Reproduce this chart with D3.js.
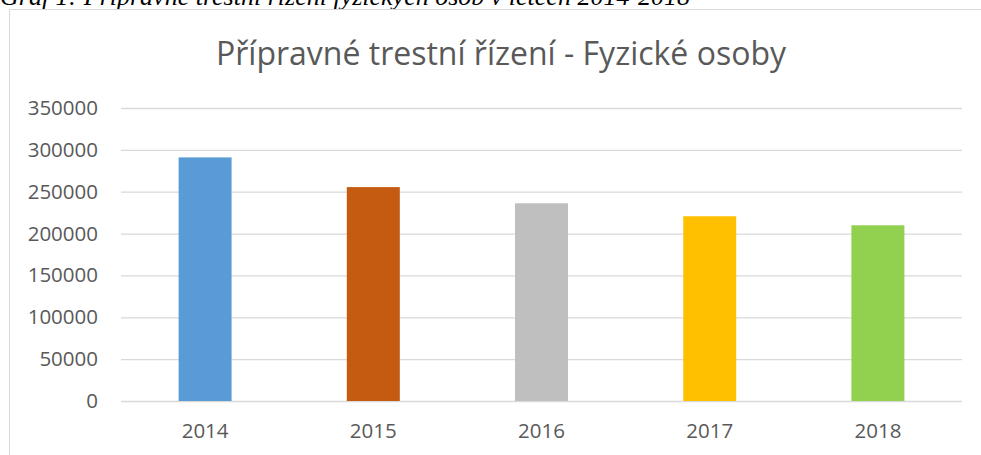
<!DOCTYPE html>
<html>
<head>
<meta charset="utf-8">
<script src="https://cdn.jsdelivr.net/npm/d3@7"></script>
<style>
  html, body { margin: 0; padding: 0; background: #fff; }
  svg { display: block; }
</style>
</head>
<body>
<div id="chart"></div>
<script>
const years = ["2014", "2015", "2016", "2017", "2018"];
const values = [291000, 255500, 236200, 220700, 209900];
const barColors = ["#5B9BD5", "#C55A11", "#BFBFBF", "#FFC000", "#92D050"];
const yTicks = [0, 50000, 100000, 150000, 200000, 250000, 300000, 350000];
const chartTitle = "Přípravné trestní řízení - Fyzické osoby";
const caption = "Graf 1: Přípravné trestní řízení fyzických osob v letech 2014-2018";

const width = 981;
const height = 455;
const plot = { left: 121, right: 962, top: 108, bottom: 401 };
const textGrey = "#595959";
const font = "'Open Sans', sans-serif";

const svg = d3.select("#chart")
  .append("svg")
  .attr("width", width)
  .attr("height", height);

/* document caption above the chart, mostly cut off by the top edge */
svg.append("text")
  .attr("x", 0)
  .attr("y", 5)
  .attr("font-family", "'Liberation Serif', 'Times New Roman', serif")
  .attr("font-style", "italic")
  .attr("font-size", 26)
  .attr("fill", "#000")
  .text(caption);

/* chart frame: only the top and left edges fall inside the picture */
svg.append("rect")
  .attr("x", 9).attr("y", 9)
  .attr("width", width).attr("height", height)
  .attr("fill", "#fff");
svg.append("path")
  .attr("d", `M9.5,${height} V9.5 H${width}`)
  .attr("fill", "none")
  .attr("stroke", "#d9d9d9")
  .attr("stroke-width", 1);

const x = d3.scaleBand()
  .domain(years)
  .range([plot.left, plot.right])
  .paddingInner(0.685)
  .paddingOuter(0.3425);

const y = d3.scaleLinear()
  .domain([0, 350000])
  .range([plot.bottom, plot.top]);

/* gridlines */
svg.append("g")
  .attr("transform", `translate(${plot.left},0)`)
  .call(d3.axisLeft(y).tickValues(yTicks).tickSize(-(plot.right - plot.left)).tickFormat(""))
  .call((g) => {
    g.select(".domain").remove();
    g.selectAll("line").attr("stroke", "#d9d9d9").attr("stroke-width", 1.3);
  });

/* y labels */
svg.append("g")
  .attr("transform", "translate(98,0)")
  .call(d3.axisLeft(y).tickValues(yTicks).tickSize(0).tickPadding(0).tickFormat(d3.format("d")))
  .call((g) => {
    g.select(".domain").remove();
    g.selectAll("text")
      .attr("font-family", font)
      .attr("font-size", 20.5)
      .attr("fill", textGrey);
  });

/* bars */
svg.append("g")
  .selectAll("rect")
  .data(years)
  .join("rect")
  .attr("x", (d) => x(d))
  .attr("y", (d, i) => y(values[i]))
  .attr("width", x.bandwidth())
  .attr("height", (d, i) => y(0) - y(values[i]))
  .attr("fill", (d, i) => barColors[i]);

/* x labels */
svg.append("g")
  .attr("transform", `translate(0,${plot.bottom})`)
  .call(d3.axisBottom(x).tickSize(0).tickPadding(22))
  .call((g) => {
    g.select(".domain").remove();
    g.selectAll("text")
      .attr("font-family", font)
      .attr("font-size", 20.5)
      .attr("fill", textGrey);
  });

/* title */
svg.append("text")
  .attr("x", (212 + 790) / 2)
  .attr("y", 65)
  .attr("text-anchor", "middle")
  .attr("font-family", font)
  .attr("font-size", 32)
  .attr("fill", textGrey)
  .text(chartTitle);
</script>
</body>
</html>
